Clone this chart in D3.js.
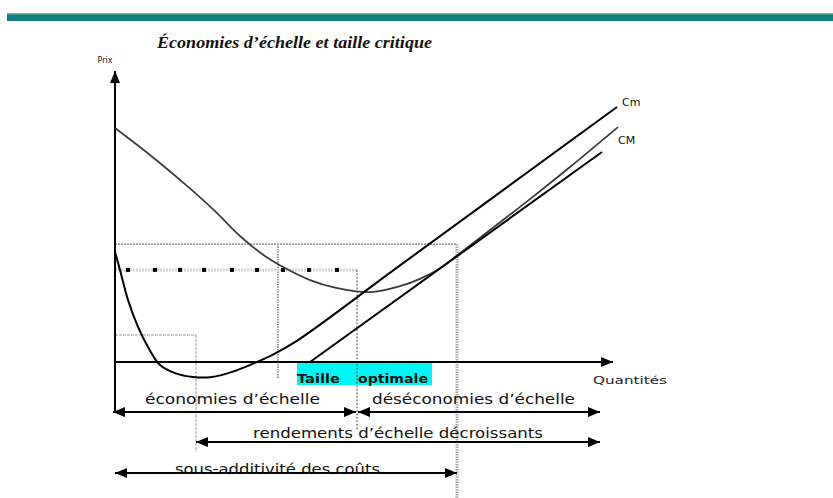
<!DOCTYPE html>
<html><head><meta charset="utf-8">
<script src="https://cdn.jsdelivr.net/npm/d3@7"></script>
<style>html,body{margin:0;padding:0;background:#fff;}svg{display:block;}</style>
</head><body>
<svg id="c" width="833" height="498"></svg>
<script>
// ---- data (quantity x, price y, arbitrary units) ----
const cmQ = [0, 1, 2.6, 4.6, 6.6, 9, 12, 15.6, 19.4, 23.4, 27.4, 31.4, 36.6, 57, 100.4];
const cmP = [36.7, 30.7, 20.7, 11.7, 5, -1, -3.7, -5, -5, -3.3, -0.7, 2.3, 7.3, 32.2, 85];
const CMQ = [0, 7, 14, 20, 25, 29.4, 34, 39, 44, 51, 57, 61, 65, 69, 75, 83, 91, 100.6];
const CMP = [78, 69, 59.3, 50.3, 42, 36, 31.3, 27.3, 24.8, 23.3, 25.3, 27.7, 31.3, 36.3, 44, 54.3, 65, 78.3];
const lowQ = [39, 97.4];
const lowP = [0, 70];
const dotQ = [2.6, 8, 13, 17.8, 23.4, 28.4, 33.6, 38.8, 44.4];
const levelHigh = 39.3, levelDots = 30.7, levelLow = 9;
const qMinCm = 16.2, qMid = 32.6, qOpt = 48.4, qSub = 68.4;
const arrowLabels = ["économies d’échelle", "déséconomies d’échelle", "rendements d’échelle décroissants", "sous-additivité des coûts"];
const arrowFrom = [-0.4, 48.6, 16.2, 0];
const arrowTo = [48.2, 97, 97, 68.4];
const arrowRow = [-16.7, -16.7, -26.7, -37];
const titleText = "Économies d’échelle et taille critique";

const svg = d3.select("#c");
const x = d3.scaleLinear().domain([0, 100]).range([115, 615]);
const y = d3.scaleLinear().domain([0, 100]).range([362, 62]);

// top teal band
svg.append("rect").attr("x", 7).attr("y", 13).attr("width", 826).attr("height", 8).attr("fill", "#117f7c");
svg.append("rect").attr("x", 7).attr("y", 13).attr("width", 826).attr("height", 1.5).attr("fill", "#6ab3b0");

// title
svg.append("text").attr("x", 157).attr("y", 48).text(titleText)
  .attr("font-family", "Liberation Serif").attr("font-style", "italic").attr("font-weight", "bold")
  .attr("font-size", 17).attr("textLength", 275).attr("lengthAdjust", "spacingAndGlyphs").attr("fill", "#111");

const defs = svg.append("defs");
defs.append("marker").attr("id", "ah").attr("viewBox", "0 0 12 10").attr("refX", 12).attr("refY", 5)
  .attr("markerWidth", 12).attr("markerHeight", 10).attr("markerUnits", "userSpaceOnUse")
  .attr("orient", "auto-start-reverse")
  .append("path").attr("d", "M0,0 L12,5 L0,10 Z").attr("fill", "#000");

// Taille optimale box
svg.append("rect").attr("x", x(36.4)).attr("y", 363).attr("width", x(63.4) - x(36.4)).attr("height", 22).attr("fill", "#00f5f5");
svg.append("text").attr("x", x(36.4)).attr("y", 383).text("Taille").attr("font-family", "DejaVu Sans").attr("font-weight", "bold")
  .attr("font-size", 12).attr("textLength", 43).attr("lengthAdjust", "spacingAndGlyphs").attr("fill", "#111");
svg.append("text").attr("x", x(48.6)).attr("y", 383).text("optimale").attr("font-family", "DejaVu Sans").attr("font-weight", "bold")
  .attr("font-size", 12).attr("textLength", 70).attr("lengthAdjust", "spacingAndGlyphs").attr("fill", "#111");

// reference dotted lines
const seg = (q1, p1, q2, p2, stroke, w, dash) => svg.append("line")
  .attr("x1", x(q1)).attr("y1", y(p1)).attr("x2", x(q2)).attr("y2", y(p2))
  .attr("stroke", stroke).attr("stroke-width", w).attr("stroke-dasharray", dash);
seg(0, levelHigh, qSub, levelHigh, "#777", 1.3, "2,1");
seg(qSub, levelHigh, qSub, -46, "#aaa", 3, "1.5,1");
seg(qMid, levelHigh, qMid, -5.3, "#999", 2, "1.5,1");
seg(0, levelDots, qOpt, levelDots, "#d4d4d4", 3, "2,1");
seg(qOpt, levelDots, qOpt, -22.7, "#444", 1, "2,1.5");
seg(0, levelLow, qMinCm, levelLow, "#999", 1, "3,1");
seg(qMinCm, levelLow, qMinCm, -30, "#999", 1, "3,1");
svg.selectAll("rect.dot").data(dotQ).join("rect").attr("class", "dot")
  .attr("x", d => x(d) - 2).attr("y", y(levelDots) - 2).attr("width", 4).attr("height", 4).attr("fill", "#000");

// axes
const axisG = svg.append("g");
axisG.append("line").attr("x1", x(0)).attr("y1", y(-16.7)).attr("x2", x(0)).attr("y2", y(97))
  .attr("stroke", "#000").attr("stroke-width", 2).attr("marker-end", "url(#ah)");
axisG.append("line").attr("x1", x(0)).attr("y1", y(0)).attr("x2", x(99.6)).attr("y2", y(0))
  .attr("stroke", "#000").attr("stroke-width", 2).attr("marker-end", "url(#ah)");
svg.append("text").attr("x", 105).attr("y", 63).attr("text-anchor", "middle").text("Prix")
  .attr("font-family", "DejaVu Sans").attr("font-size", 8).attr("fill", "#222");
svg.append("text").attr("x", 593).attr("y", 384).text("Quantités")
  .attr("font-family", "DejaVu Sans").attr("font-size", 11).attr("textLength", 74).attr("lengthAdjust", "spacingAndGlyphs").attr("fill", "#222");

// curves
const line = d3.line().x(d => x(d[0])).y(d => y(d[1])).curve(d3.curveCatmullRom.alpha(0.5));
svg.append("path").attr("d", line(CMQ.map((q, i) => [q, CMP[i]])))
  .attr("fill", "none").attr("stroke", "#3a3a3a").attr("stroke-width", 1.7);
svg.append("path").attr("d", line(cmQ.map((q, i) => [q, cmP[i]])))
  .attr("fill", "none").attr("stroke", "#000").attr("stroke-width", 2);
svg.append("path").attr("d", d3.line().x(d => x(d[0])).y(d => y(d[1]))(lowQ.map((q, i) => [q, lowP[i]])))
  .attr("fill", "none").attr("stroke", "#000").attr("stroke-width", 2);

svg.append("text").attr("x", 622).attr("y", 106).text("Cm").attr("font-family", "DejaVu Sans").attr("font-size", 11).attr("fill", "#111");
svg.append("text").attr("x", 618).attr("y", 144).text("CM").attr("font-family", "DejaVu Sans").attr("font-size", 11).attr("fill", "#111");

// range arrows
const labelX = [145, 372, 253, 175];
const labelW = [175, 203, 290, 205];
const labelDy = [-8, -8, -4, 1];
arrowLabels.forEach((t, i) => {
  svg.append("line").attr("x1", x(arrowFrom[i])).attr("y1", y(arrowRow[i])).attr("x2", x(arrowTo[i])).attr("y2", y(arrowRow[i]))
    .attr("stroke", "#000").attr("stroke-width", 2)
    .attr("marker-start", "url(#ah)").attr("marker-end", "url(#ah)");
  svg.append("text").attr("x", labelX[i]).attr("y", y(arrowRow[i]) + labelDy[i]).text(t)
    .attr("font-family", "DejaVu Sans").attr("font-size", 14).attr("textLength", labelW[i])
    .attr("lengthAdjust", "spacingAndGlyphs").attr("fill", "#111");
});
</script>
</body></html>
